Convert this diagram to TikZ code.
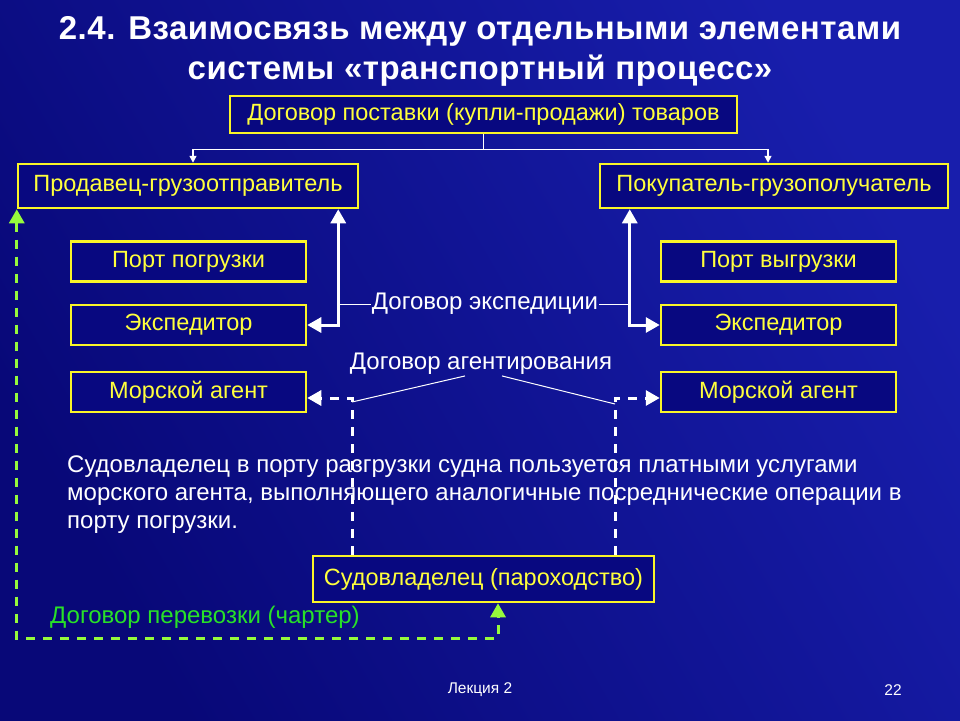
\documentclass[tikz,border=0pt]{standalone}
\usepackage{fontspec}
\setmainfont{Liberation Sans}
\newfontfamily\titlefont[LetterSpace=1.5]{Liberation Sans}
\usetikzlibrary{arrows.meta, positioning, calc}
\definecolor{bgdark}{RGB}{8, 8, 120}
\definecolor{bglight}{RGB}{24, 30, 172}
\definecolor{boxfill}{RGB}{8, 8, 128}
\definecolor{boxline}{RGB}{250, 245, 40}
\definecolor{boxtext}{RGB}{255, 255, 60}
\definecolor{charter}{RGB}{150, 250, 60}
\definecolor{chartertext}{RGB}{40, 225, 40}

\begin{document}
\begin{tikzpicture}[x=1pt, y=-1pt,
    box/.style={rectangle, draw=boxline, line width=2.5pt, fill=boxfill, text=boxtext,
                font=\fontsize{23.5}{28}\selectfont, inner sep=0pt, minimum height=40pt},
    small/.style={box, minimum width=235pt},
    note/.style={text=white, font=\fontsize{24}{28}\selectfont, inner sep=1pt},
    feed/.style={draw=white, line width=1.5pt, -{Triangle[length=7pt, width=7pt]}},
    link/.style={draw=white, line width=3pt,
                 {Triangle[length=14pt, width=15pt]}-{Triangle[length=14pt, width=15pt]}},
    agency/.style={draw=white, line width=3pt, dash pattern=on 9pt off 8pt,
                   -{Triangle[length=14pt, width=15pt]}},
    hint/.style={draw=white, line width=1pt}]

    % Background
    \shade[left color=bgdark, right color=bglight, shading angle=120] (0,0) rectangle (960,720);

    % Title
    \node[text=white, align=center, font=\titlefont\bfseries\fontsize{33}{40}\selectfont]
        (title) at (480,51) {2.4. Взаимосвязь между отдельными элементами\\системы «транспортный процесс»};

    % Contract of sale
    \node[box, minimum width=507pt, minimum height=37pt] (supply) at (483.5,114.5)
        {Договор поставки (купли-продажи) товаров};
    \node[box, minimum width=340pt, minimum height=44pt] (seller) at (188,186)
        {Продавец-грузоотправитель};
    \node[box, minimum width=348pt, minimum height=44pt] (buyer) at (774,186)
        {Покупатель-грузополучатель};
    \draw[feed] (supply.south) -- ++(0,15) -| ([xshift=5pt]seller.north);
    \draw[feed] (supply.south) -- ++(0,15) -| ([xshift=-6pt]buyer.north);

    % Intermediaries at both ports
    \node[small] (portl) at (188.5,261.5) {Порт погрузки};
    \node[small] (expl) at (188.5,325) {Экспедитор};
    \node[small] (agl) at (188.5,392) {Морской агент};
    \node[small] (portr) at (778.5,261.5) {Порт выгрузки};
    \node[small] (expr) at (778.5,325) {Экспедитор};
    \node[small] (agr) at (778.5,392) {Морской агент};

    % Forwarding contract
    \coordinate (sx) at ([xshift=-21pt]seller.south east);
    \coordinate (bx) at ([xshift=31pt]buyer.south west);
    \draw[link] (expl.east) -| (sx);
    \draw[link] (expr.west) -| (bx);
    \node[note] (fwd) at (485,304) {Договор экспедиции};
    \draw[hint] (fwd.west) -- (fwd.west -| sx);
    \draw[hint] (fwd.east) -- (fwd.east -| bx);

    % Explanation
    \node[text=white, align=left, anchor=north west, inner sep=0pt,
          font=\fontsize{24}{28}\selectfont] (text) at (67,456)
        {Судовладелец в порту разгрузки судна пользуется платными услугами\\
         морского агента, выполняющего аналогичные посреднические операции в\\
         порту погрузки.};

    % Shipowner and agency contract
    \node[box, minimum width=341pt, minimum height=46pt] (ship) at (483.5,579)
        {Судовладелец (пароходство)};
    \coordinate (al) at (352,398);
    \coordinate (ar) at (615,398);
    \draw[agency] (ship.north -| al) |- ([yshift=-6pt]agl.east);
    \draw[agency] (ship.north -| ar) |- ([yshift=-6pt]agr.west);
    \node[note] (agc) at (481,364) {Договор агентирования};
    \draw[hint] ([xshift=-16pt]agc.south) -- ([yshift=-4pt]al);
    \draw[hint] ([xshift=21pt]agc.south) -- ([yshift=-6pt]ar);

    % Charter
    \coordinate (cc) at (498,638);
    \draw[draw=charter, line width=3pt, dash pattern=on 9pt off 8pt,
          {Triangle[length=14pt, width=15pt]}-{Triangle[length=14pt, width=15pt]}]
        (seller.south west) |- (cc) -- (cc |- ship.south);
    \node[text=chartertext, anchor=west, inner sep=0pt, font=\fontsize{24}{28}\selectfont]
        (chl) at (50,617) {Договор перевозки (чартер)};

    % Footer
    \node[text=white, font=\fontsize{15.5}{18}\selectfont] (lec) at (480,690) {Лекция 2};
    \node[text=white, font=\fontsize{15.5}{18}\selectfont] (num) at (893,690) {22};
\end{tikzpicture}
\end{document}
